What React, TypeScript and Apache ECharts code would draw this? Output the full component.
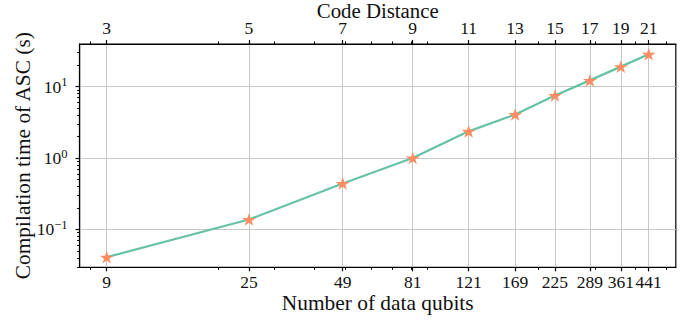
import React, { useEffect, useRef } from "react";
import * as echarts from "echarts";

// ---- data ----
const qubits = [9, 25, 49, 81, 121, 169, 225, 289, 361, 441];
const codeDistances = [3, 5, 7, 9, 11, 13, 15, 17, 19, 21];
const compileTimes = [0.041, 0.138, 0.44, 1.0, 2.36, 4.06, 7.5, 12.2, 19.0, 28.4];

// ---- tick values ----
const yMajorTicks = [0.1, 1, 10];
const xMinorTicks = [8, 20, 30, 40, 50, 60, 70, 80, 90, 200, 300, 400, 500];
const yMinorTicks = [
  0.03, 0.04, 0.05, 0.06, 0.07, 0.08, 0.09,
  0.2, 0.3, 0.4, 0.5, 0.6, 0.7, 0.8, 0.9,
  2, 3, 4, 5, 6, 7, 8, 9,
  20, 30, 40,
];

const L = (v: number) => Math.log10(v);
const FONT = "Liberation Serif";
const STAR =
  "path://M0,-1 L0.2245,-0.309 L0.951,-0.309 L0.363,0.118 L0.588,0.809 L0,0.382 L-0.588,0.809 L-0.363,0.118 L-0.951,-0.309 L-0.2245,-0.309 Z";

function padRange(vals: number[]) {
  const lo = Math.min(...vals.map(L));
  const hi = Math.max(...vals.map(L));
  const p = 0.05 * (hi - lo);
  return [lo - p, hi + p];
}

export default function App() {
  const ref = useRef<HTMLDivElement>(null);

  useEffect(() => {
    if (!ref.current) return;
    const chart = echarts.init(ref.current, null, { renderer: "svg" });

    const [xMin, xMax] = padRange(qubits);
    const [yMin, yMax] = padRange(compileTimes);
    const xMajor = qubits.map(L);
    const idxOf = (v: number) => xMajor.findIndex((t) => Math.abs(t - v) < 1e-6);

    const axisLine = { show: true, onZero: false, lineStyle: { color: "#000", width: 1.2 } };
    const noLine = { show: false, onZero: false };
    const labelStyle = { fontFamily: FONT, fontSize: 17.5, color: "#111" };
    const nameStyle = { fontFamily: FONT, fontSize: 21.4, color: "#111" };
    const grid = { show: false, lineStyle: { color: "#c8c8c8", width: 1 } };

    const option: any = {
      animation: false,
      backgroundColor: "#fff",
      grid: {
        left: 79.6,
        right: 15.2,
        top: 44,
        bottom: 54.7,
        containLabel: false,
        outerBoundsMode: "none",
        show: true,
        borderColor: "#000",
        borderWidth: 1.2,
        backgroundColor: "transparent",
      },
      xAxis: [
        {
          type: "value",
          position: "bottom",
          min: xMin,
          max: xMax,
          axisLine,
          axisTick: { show: true, customValues: xMajor, length: 4, lineStyle: { color: "#000", width: 1.2 } },
          axisLabel: {
            show: true,
            customValues: xMajor,
            margin: 6,
            ...labelStyle,
            formatter: (v: number) => String(qubits[idxOf(v)]),
          },
          splitLine: { ...grid, show: true },
          name: "Number of data qubits",
          nameLocation: "middle",
          nameMoveOverlap: false,
          nameGap: 25,
          nameTextStyle: nameStyle,
        },
        {
          type: "value",
          position: "bottom",
          min: xMin,
          max: xMax,
          axisLine: noLine,
          axisTick: { show: true, customValues: xMinorTicks.map(L), length: 2.5, lineStyle: { color: "#000", width: 1 } },
          axisLabel: { show: false },
          splitLine: { show: false },
        },
        {
          type: "value",
          position: "top",
          min: xMin,
          max: xMax,
          axisLine,
          axisTick: { show: true, customValues: xMajor, length: 4, lineStyle: { color: "#000", width: 1.2 } },
          axisLabel: {
            show: true,
            customValues: xMajor,
            margin: 8.5,
            ...labelStyle,
            lineHeight: 16,
            formatter: (v: number) => String(codeDistances[idxOf(v)]),
          },
          splitLine: { show: false },
          name: "Code Distance",
          nameLocation: "middle",
          nameMoveOverlap: false,
          nameGap: 24.5,
          nameTextStyle: { ...nameStyle, fontSize: 20.8, lineHeight: 18 },
        },
        {
          type: "value",
          position: "top",
          min: xMin,
          max: xMax,
          axisLine: noLine,
          axisTick: { show: true, customValues: xMinorTicks.map(L), length: 2.5, lineStyle: { color: "#000", width: 1 } },
          axisLabel: { show: false },
          splitLine: { show: false },
        },
      ],
      yAxis: [
        {
          type: "value",
          position: "left",
          min: yMin,
          max: yMax,
          axisLine,
          axisTick: { show: true, customValues: yMajorTicks.map(L), length: 4, lineStyle: { color: "#000", width: 1.2 } },
          axisLabel: {
            show: true,
            customValues: yMajorTicks.map(L),
            margin: 12,
            formatter: (v: number) => {
              const e = Math.round(v);
              const s = e < 0 ? "\u2212" + String(-e) : String(e);
              return `{b|10}{s|${s}}`;
            },
            rich: {
              b: { fontFamily: FONT, fontSize: 17.5, color: "#111", lineHeight: 22 },
              s: { fontFamily: FONT, fontSize: 12.5, color: "#111", verticalAlign: "top", lineHeight: 12 },
            },
          },
          splitLine: { ...grid, show: true },
          name: "Compilation time of ASC (s)",
          nameLocation: "middle",
          nameMoveOverlap: false,
          nameGap: 46,
          nameTextStyle: nameStyle,
        },
        {
          type: "value",
          position: "left",
          min: yMin,
          max: yMax,
          axisLine: noLine,
          axisTick: { show: true, customValues: yMinorTicks.map(L), length: 2.5, lineStyle: { color: "#000", width: 1 } },
          axisLabel: { show: false },
          splitLine: { show: false },
        },
      ],
      series: [
        {
          type: "line",
          xAxisIndex: 0,
          yAxisIndex: 0,
          data: qubits.map((q, i) => [L(q), L(compileTimes[i])]),
          lineStyle: { color: "#66c2a5", width: 2.2 },
          itemStyle: { color: "#fc8d62", borderWidth: 0 },
          symbol: STAR,
          symbolSize: [14, 13.3],
          symbolKeepAspect: true,
          showSymbol: true,
          z: 5,
        },
      ],
    };

    chart.setOption(option);
    return () => chart.dispose();
  }, []);

  return (
    <div
      ref={ref}
      style={{ position: "fixed", left: 0, top: 0, width: 691, height: 322, background: "#fff" }}
    />
  );
}
